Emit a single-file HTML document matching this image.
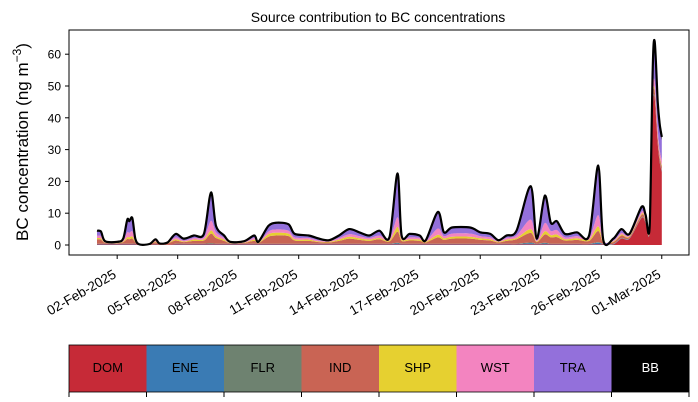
<!DOCTYPE html>
<html><head><meta charset="utf-8"><style>
body{margin:0;background:#fff;font-family:"Liberation Sans","DejaVu Sans",sans-serif}
svg{display:block}
</style></head><body>
<svg id="chart" width="698" height="402" viewBox="0 0 698 402">
<text x="378" y="22" text-anchor="middle" font-size="14">Source contribution to BC concentrations</text>
<text transform="translate(28,142) rotate(-90)" text-anchor="middle" font-size="17">BC concentration (ng m<tspan dy="-7" font-size="12">−3</tspan><tspan dy="7">)</tspan></text>
<g id="areas"></g>
<rect x="69" y="30" width="620" height="225" fill="none" stroke="#000" stroke-width="1"/>
<g id="axes"></g>
<g id="cbar"></g>
</svg>
<script>
const times=[0.0,0.2,0.4,1.0,1.3,1.5,1.6,1.75,1.9,2.1,2.6,2.9,3.1,3.5,3.9,4.3,4.8,5.3,5.65,5.9,6.3,6.6,7.3,7.8,8.0,8.5,8.9,9.5,9.8,10.5,11.0,11.5,12.0,12.5,13.0,13.5,14.0,14.5,14.9,15.1,15.5,16.0,16.3,16.9,17.2,17.6,18.5,19.0,19.5,19.9,20.3,20.8,21.5,21.8,22.2,22.5,22.8,23.2,23.8,24.4,24.85,25.1,25.6,26.0,26.4,27.0,27.2,27.4,27.55,27.65,27.8,27.9,28.0];
const DOM=[.2,.2,.2,.2,.2,.2,.2,.2,.2,.1,.1,.2,.1,.1,.2,.2,.2,.2,.2,.2,.2,.2,.2,.2,.2,.2,.2,.2,.2,.2,.2,.2,.2,.2,.2,.2,.2,.2,.2,.2,.2,.2,.2,.2,.2,.2,.2,.2,.2,.2,.2,.2,.2,.2,.2,.2,.2,.2,.2,.2,.2,.2,.2,2.0,2.0,8.5,7.0,4.5,42,46,32,26,23];
const ENE=[.1,.1,.1,.1,.1,.1,.1,.1,.1,0,0,.1,0,0,.1,.1,.1,.1,.1,.1,.1,.1,.1,.1,.1,.1,.1,.1,.1,.1,.1,.1,.1,.1,.1,.1,.1,.1,.3,.1,.1,.1,.1,.1,.1,.1,.1,.1,.1,.1,.1,.1,.4,.1,.3,.1,.1,.1,.1,.1,.5,.1,.1,.1,.1,.1,.1,.1,.2,.2,.2,.2,.2];
const FLR=[.1,.1,.1,.1,.1,.1,.1,.1,.1,0,0,.1,0,0,.1,.1,.1,.1,.3,.1,.1,.1,.1,.1,.1,.1,.1,.1,.1,.1,.1,.1,.1,.1,.1,.1,.1,.1,.2,.1,.1,.1,.1,.1,.1,.1,.1,.1,.1,.1,.1,.1,.2,.1,.2,.1,.1,.1,.1,.1,.2,.1,.1,.1,.1,.1,.1,.1,.2,.2,.2,.2,.2];
const IND=[1.4,1.3,.3,.2,.5,1.5,1.4,1.6,.5,0,.1,.5,.2,.4,1.0,.5,.9,1.0,3.0,1.8,.9,.2,.3,.9,.2,2.2,2.6,2.4,1.0,.9,.5,.4,.9,1.6,1.2,.9,1.4,.7,3.5,.9,1.0,.9,.4,2.0,1.2,1.6,1.6,1.2,1.0,.4,.9,1.4,3.0,.5,2.6,2.0,2.1,1.0,1.2,.9,3.5,.4,.5,.8,.4,.8,.6,.3,1.5,2.0,1.5,1.3,1.2];
const SHP=[.4,.4,.1,.1,.2,.6,.6,.7,.2,0,0,.2,.1,.1,.4,.2,.4,.4,1.0,.6,.4,.1,.1,.4,.1,.8,.9,.8,.4,.4,.2,.2,.4,.6,.5,.4,.4,.3,1.5,.4,.4,.4,.2,.8,.5,.6,.6,.5,.4,.2,.4,.4,1.2,.2,1.0,.7,.8,.4,.5,.4,1.5,.2,.2,.3,.2,.3,.3,.2,.5,.6,.5,.4,.4];
const WST=[.8,.7,.1,0,.3,1.5,1.4,1.6,.3,0,0,.3,0,.1,.6,.3,.5,.6,3.0,1.2,.5,0,.1,.5,0,.8,1.0,.9,.6,.5,.3,.2,.5,.8,.7,.5,.8,.4,3.0,.5,.6,.5,.2,2.0,.7,1.0,1.0,.7,.6,.2,.5,.8,3.0,.3,2.6,1.3,1.4,.6,.7,.5,3.5,.2,.3,.5,.3,.7,.5,.3,2.0,2.5,2.0,1.8,1.6];
const TRA=[1.2,1.1,0,0,.3,3.7,3.4,3.9,.3,0,0,.3,0,0,.8,.3,.5,.8,8.5,1.7,.5,0,0,.5,0,1.5,1.8,1.7,.8,.5,.3,0,.5,1.3,.9,.5,1.2,.4,13.3,.5,.8,.5,0,4.8,.9,1.6,1.6,.9,.8,0,.5,1.2,10.0,.3,8.2,2.3,2.5,.8,.9,.5,15.1,0,.3,.9,.1,1.1,.5,.2,7.6,11.5,7.6,7.1,6.4];
const BB=[.3,.3,.3,.3,.3,.3,.3,.3,.3,.1,.1,.1,.1,.1,.3,.3,.3,.3,.4,.3,.3,.3,.3,.3,.3,.3,.3,.3,.3,.3,.3,.3,.3,.3,.3,.3,.3,.3,.5,.3,.3,.3,.3,.4,.3,.3,.3,.3,.3,.3,.3,.3,.5,.3,.4,.3,.3,.3,.3,.3,.5,.3,.3,.3,.3,.4,.4,.3,1.0,1.0,1.0,1.0,1.0];
const sourceNames=["DOM","ENE","FLR","IND","SHP","WST","TRA","BB"];
const sourceColors=["#c62a37","#3a7bb4","#6e8270","#c96454","#e6d030","#f384c0","#9370db","#000000"];
const yTicks=[0,10,20,30,40,50,60];
const xTickDays=[1,4,7,10,13,16,19,22,25,28];
const xTickLabels=["02-Feb-2025","05-Feb-2025","08-Feb-2025","11-Feb-2025","14-Feb-2025","17-Feb-2025","20-Feb-2025","23-Feb-2025","26-Feb-2025","01-Mar-2025"];

const NS="http://www.w3.org/2000/svg";
const X=t=>97+t*20.17;
const Y=v=>245-v*3.18;
function mk(tag,attrs,parent){const e=document.createElementNS(NS,tag);for(const k in attrs)e.setAttribute(k,attrs[k]);parent.appendChild(e);return e;}
function smooth(pts,start){
  let d=(start?"M":"L")+pts[0][0].toFixed(1)+","+pts[0][1].toFixed(1);
  for(let i=0;i<pts.length-1;i++){
    const p0=pts[Math.max(i-1,0)],p1=pts[i],p2=pts[i+1],p3=pts[Math.min(i+2,pts.length-1)];
    const k=0.15;
    const c1=[p1[0]+(p2[0]-p0[0])*k,p1[1]+(p2[1]-p0[1])*k];
    const c2=[p2[0]-(p3[0]-p1[0])*k,p2[1]-(p3[1]-p1[1])*k];
    d+="C"+c1[0].toFixed(1)+","+c1[1].toFixed(1)+" "+c2[0].toFixed(1)+","+c2[1].toFixed(1)+" "+p2[0].toFixed(1)+","+p2[1].toFixed(1);
  }
  return d;
}
const series=[DOM,ENE,FLR,IND,SHP,WST,TRA,BB];
const areas=document.getElementById('areas');
let base=times.map(()=>0);
series.forEach((s,i)=>{
  const top=base.map((b,j)=>b+s[j]);
  const tp=times.map((t,j)=>[X(t),Y(top[j])]);
  const bp=times.map((t,j)=>[X(t),Y(base[j])]).reverse();
  const d=smooth(tp,true)+smooth(bp,false)+"Z";
  const p=mk('path',{d:d,fill:sourceColors[i],stroke:'none'},areas);
  
  
  base=top;
});
const line=mk('path',{d:smooth(times.map((t,j)=>[X(t),Y(base[j])]),true),fill:'none',stroke:'#000','stroke-width':2.2,'stroke-linejoin':'round'},areas);



const axes=document.getElementById('axes');
yTicks.forEach(v=>{
  const y=Y(v);
  const tk=mk('line',{x1:65,x2:69,y1:y,y2:y,stroke:'#000'},axes);
  
  
  const tx=mk('text',{x:61,y:y+4.5,'text-anchor':'end','font-size':12},axes);
  tx.textContent=v;
  
  
});
xTickDays.forEach((d,i)=>{
  const x=X(d);
  const tk=mk('line',{x1:x,x2:x,y1:255,y2:259,stroke:'#000'},axes);
  
  
  const ax=x, ay=277;
  const tx=mk('text',{x:ax,y:ay,'text-anchor':'end','font-size':13.5,transform:`rotate(-30 ${ax} ${ay})`},axes);
  tx.textContent=xTickLabels[i];
  
  
});

const cbar=document.getElementById('cbar');
const w=620/sourceNames.length;
sourceNames.forEach((n,i)=>{
  const r=mk('rect',{x:69+i*w,y:345,width:w+0.5,height:47,fill:sourceColors[i]},cbar);
  
  
  const t=mk('text',{x:69+i*w+w/2,y:372,'text-anchor':'middle','font-size':13,fill:n==="BB"?"#fff":"#000"},cbar);
  t.textContent=n;
  
  
});
for(let i=0;i<=sourceNames.length;i++){
  const x=69+i*w;
  const tk=mk('line',{x1:x,x2:x,y1:392,y2:397,stroke:'#000'},cbar);
  
  
}
const fr=mk('rect',{x:69,y:345,width:620,height:47,fill:'none',stroke:'#000','stroke-width':0.8},cbar);


</script>
</body></html>
